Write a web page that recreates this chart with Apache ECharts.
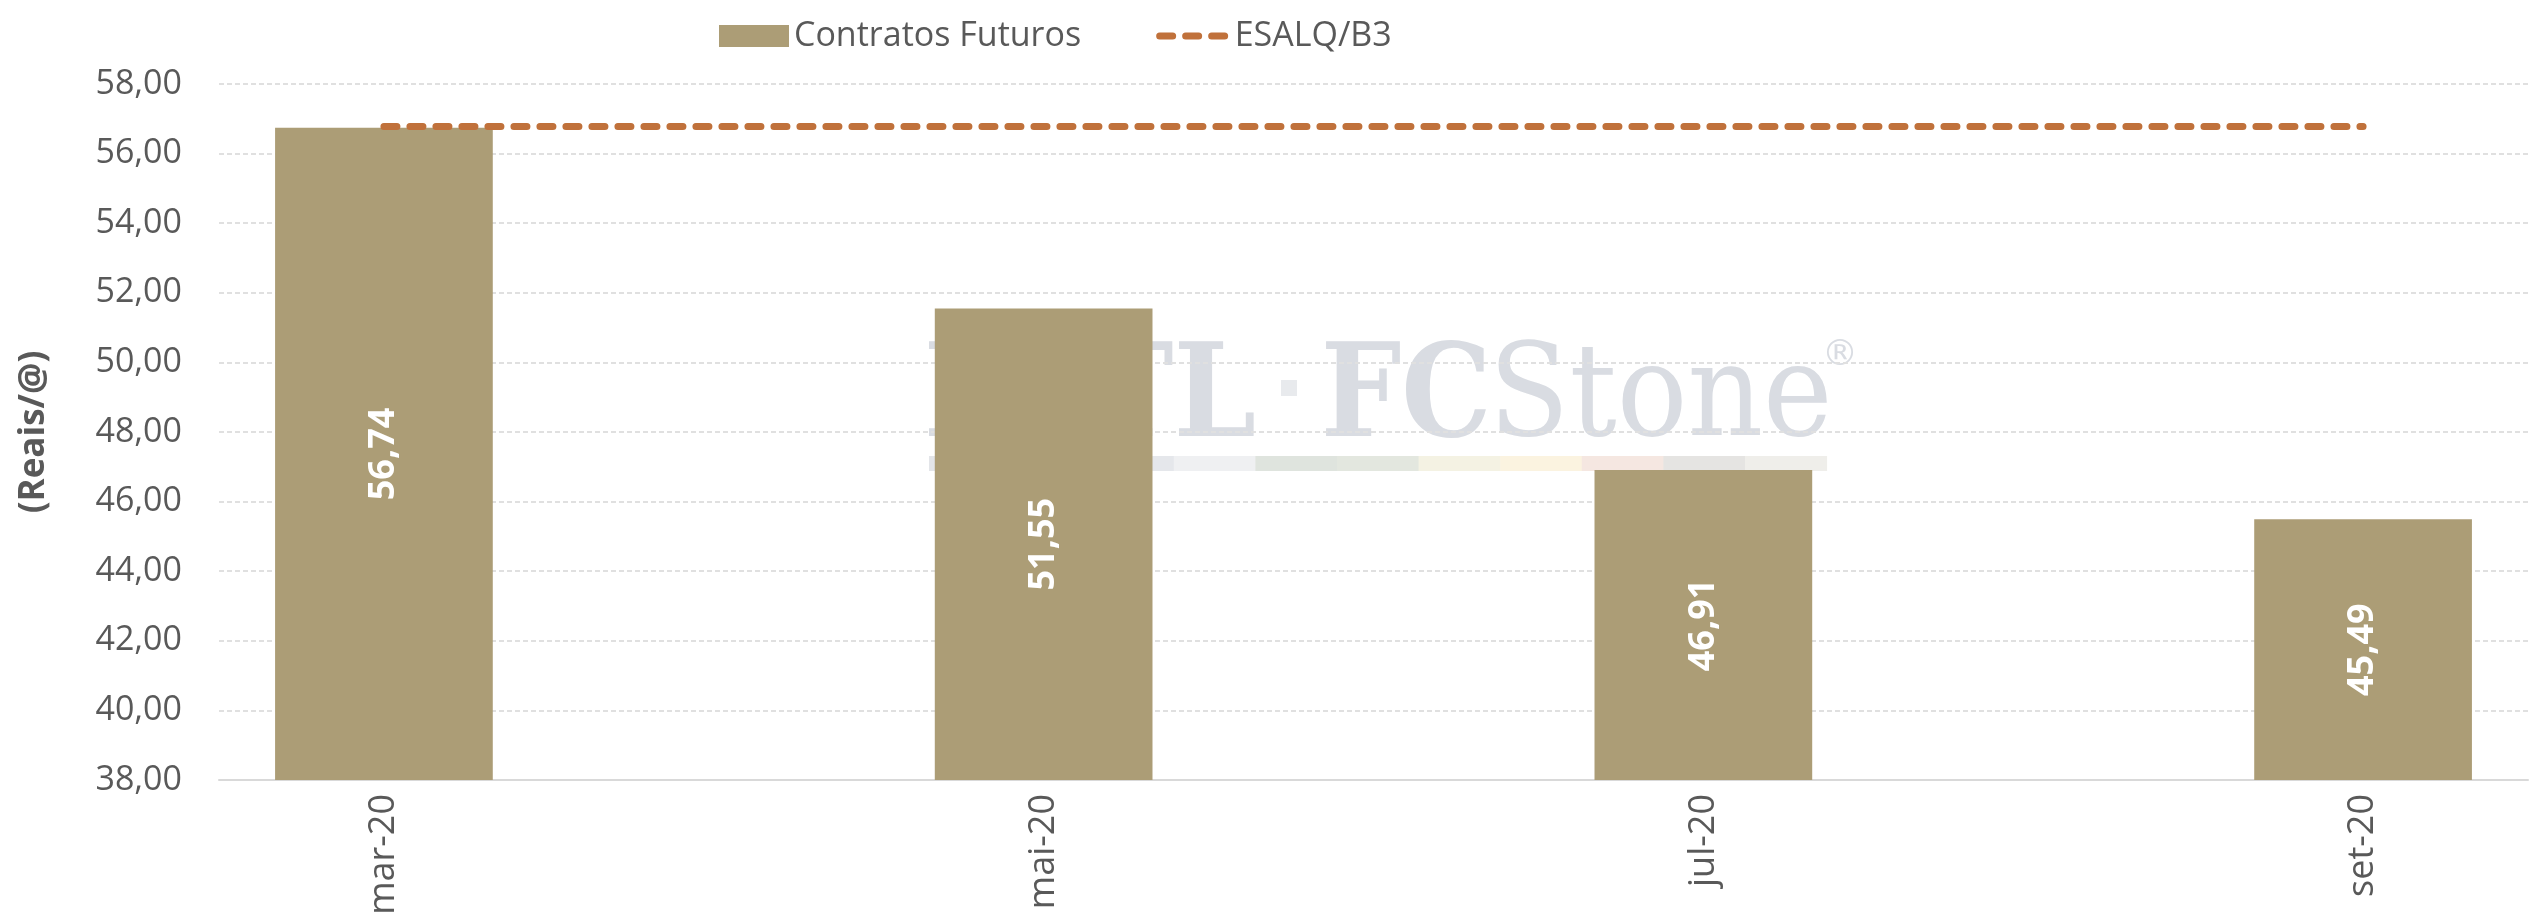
<!DOCTYPE html>
<html>
<head>
<meta charset="utf-8">
<script src="https://cdn.jsdelivr.net/npm/echarts@6/dist/echarts.min.js"></script>
<style>
  html, body { margin: 0; padding: 0; background: #ffffff; }
  #chart { width: 2544px; height: 924px; }
</style>
</head>
<body>
<div id="chart"></div>
<script>
// ---- data ----
const months = ['mar-20', 'abr-20', 'mai-20', 'jun-20', 'jul-20', 'ago-20', 'set-20'];
const futuros = [56.74, null, 51.55, null, 46.91, null, 45.49];
const esalq = [56.78, null, 56.78, null, 56.78, null, 56.78];
const yMin = 38, yMax = 58, yStep = 2;
const seriesNames = ['Contratos Futuros', 'ESALQ/B3'];
const yAxisName = '(Reais/@)';

const fmt = v => Number(v).toFixed(2).replace('.', ',');
const FONT = '"Open Sans", "Noto Sans", sans-serif';

// ---- watermark (background logo) ----
const WM = '#D9DCE2';
const mctx = document.createElement('canvas').getContext('2d');
function fitText(text, family, weight, left, right, capTop, capBottom) {
  mctx.textBaseline = 'alphabetic';
  mctx.font = weight + ' 100px ' + family;
  const capH = mctx.measureText('H').actualBoundingBoxAscent;
  const size = (capBottom - capTop) / capH * 100;
  const font = weight + ' ' + size.toFixed(2) + 'px ' + family;
  mctx.font = font;
  mctx.textBaseline = 'middle';
  const m = mctx.measureText(text);
  const inkW = m.actualBoundingBoxLeft + m.actualBoundingBoxRight;
  const sx = (right - left) / inkW;
  const hTop = mctx.measureText('H').actualBoundingBoxAscent;
  return {
    type: 'text', z: -10,
    x: left + m.actualBoundingBoxLeft * sx,
    y: capTop + hTop,
    scaleX: sx, scaleY: 1,
    style: { text: text, fill: WM, font: font, align: 'left', verticalAlign: 'middle' }
  };
}
const stripColors = ['#E3E5E9', '#E5E7EA', '#E5E7EB', '#EFF0F2', '#DFE4DE', '#E3E7DF',
                     '#F4F2E3', '#FBF3E0', '#F5E7E1', '#E5E4E2', '#EFEEEA'];
const stripEls = stripColors.map((c, i) => ({
  type: 'rect', z: -10,
  shape: { x: 929 + i * 81.6, y: 456, width: 82.1, height: 15 },
  style: { fill: c }
}));
const watermarkEls = [
  fitText('INTL', '"DejaVu Serif", serif', 'bold', 929, 1254, 341, 435),
  { type: 'rect', z: -10, shape: { x: 1281, y: 380, width: 16, height: 16 }, style: { fill: '#E8EAED' } },
  fitText('FC', '"DejaVu Serif", serif', 'bold', 1326, 1486, 341, 435),
  fitText('Stone', '"DejaVu Serif", serif', 'normal', 1498, 1827, 341, 435),
  { type: 'text', z: -10, x: 1822, y: 338,
    style: { text: '®', fill: WM, font: '36px "DejaVu Sans", sans-serif', align: 'left', verticalAlign: 'top' } },
  ...stripEls
];

const chart = echarts.init(document.getElementById('chart'), null, { renderer: 'canvas' });
chart.setOption({
  animation: false,
  backgroundColor: '#ffffff',
  textStyle: { fontFamily: FONT },
  graphic: watermarkEls,
  legend: {
    left: 714,
    top: 14,
    itemGap: 75,
    itemWidth: 70,
    itemHeight: 22,
    textStyle: { fontSize: 34, color: '#595959', fontFamily: FONT },
    data: [
      { name: seriesNames[0], icon: 'rect' },
      {
        name: seriesNames[1],
        itemStyle: { opacity: 0 },
        lineStyle: { width: 7, type: [13, 13], cap: 'round', color: '#C0713B' }
      }
    ]
  },
  grid: { left: 219, right: 16, top: 84, bottom: 144, containLabel: false },
  xAxis: {
    type: 'category',
    data: months,
    boundaryGap: true,
    axisTick: { show: false },
    axisLine: { show: true, lineStyle: { color: '#D9D9D9', width: 2 } },
    axisLabel: {
      interval: 1,
      rotate: 90,
      margin: 14,
      fontSize: 36,
      color: '#595959',
      fontFamily: FONT
    },
    splitLine: { show: false }
  },
  yAxis: {
    type: 'value',
    min: yMin, max: yMax, interval: yStep,
    name: yAxisName,
    nameLocation: 'middle',
    nameRotate: 90,
    nameGap: 167,
    nameTextStyle: { fontSize: 35, fontWeight: 'bold', color: '#595959', fontFamily: FONT },
    axisLine: { show: false },
    axisTick: { show: false },
    axisLabel: { formatter: fmt, fontSize: 34, color: '#595959', margin: 37, fontFamily: FONT },
    splitLine: { show: true, lineStyle: { color: '#E0E0E0', width: 2, type: [5, 3] } }
  },
  series: [
    {
      name: seriesNames[0],
      type: 'bar',
      data: futuros,
      barWidth: '66%',
      itemStyle: { color: '#AC9D76' },
      label: {
        show: true,
        position: 'inside',
        rotate: 90,
        formatter: p => fmt(p.value),
        color: '#ffffff',
        fontWeight: 'bold',
        fontSize: 36,
        fontFamily: FONT
      },
      z: 2
    },
    {
      name: seriesNames[1],
      type: 'line',
      data: esalq,
      connectNulls: true,
      symbol: 'none',
      lineStyle: { color: '#C0713B', width: 7, type: [13, 13], cap: 'round' },
      itemStyle: { color: '#C0713B' },
      z: 3
    }
  ]
});
</script>
</body>
</html>
